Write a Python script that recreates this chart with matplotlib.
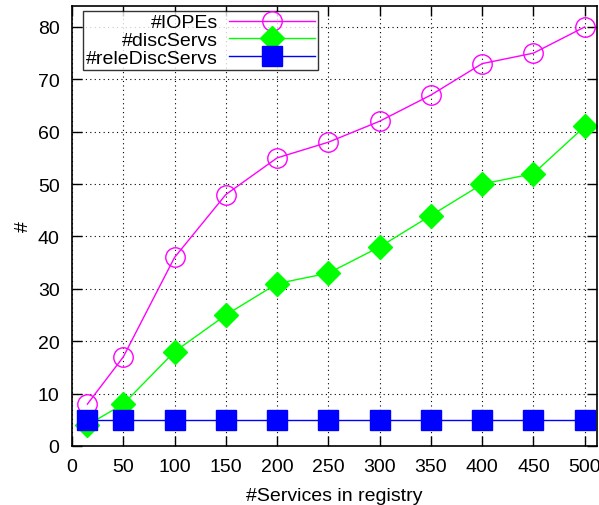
import matplotlib
matplotlib.use("Agg")
import matplotlib.pyplot as plt

plt.rcParams['font.family'] = ['Liberation Sans', 'DejaVu Sans']

# services in registry
services = [15, 50, 100, 150, 200, 250, 300, 350, 400, 450, 500]
iopes = [8, 17, 36, 48, 55, 58, 62, 67, 73, 75, 80]
disc_servs = [4, 8, 18, 25, 31, 33, 38, 44, 50, 52, 61]
rele_disc_servs = [5, 5, 5, 5, 5, 5, 5, 5, 5, 5, 5]

xticks = [0, 50, 100, 150, 200, 250, 300, 350, 400, 450, 500]
yticks = [0, 10, 20, 30, 40, 50, 60, 70, 80]

fig = plt.figure(figsize=(5.99, 5.06), dpi=100)
ax = fig.add_axes([72/599, 1 - 447/506, 525/599, 440/506])

ax.plot(services, iopes, color="#ff00ff", lw=1, marker="o", ms=14,
        mfc="none", mec="#ff00ff", mew=1, label="#IOPEs")
ax.plot(services, disc_servs, color="#00ff00", lw=1, marker="D", ms=12,
        mfc="#00ff00", mec="#00ff00", label="#discServs")
ax.plot(services, rele_disc_servs, color="#0000ff", lw=1, marker="s", ms=14,
        mfc="#0000ff", mec="#0000ff", label="#releDiscServs")

ax.set_xlim(0, 512)
ax.set_ylim(0, 84)
ax.set_xticks(xticks)
ax.set_yticks(yticks)
ax.tick_params(direction="in", top=True, right=True, length=7, width=1, labelsize=14, pad=9)
ax.grid(True, color="black", linestyle=(0, (1, 3)), linewidth=0.8)
for s in ax.spines.values():
    s.set_linewidth(1.2)

ax.set_xlabel("#Services in registry", fontsize=14, labelpad=8)
ax.set_ylabel("#", fontsize=14, labelpad=4)

leg = ax.legend(loc="upper left", bbox_to_anchor=(0.021, 0.989), markerfirst=False,
                fontsize=14, frameon=True, fancybox=False, edgecolor="black",
                borderpad=0.15, labelspacing=0.0, handlelength=4.4, handletextpad=0.6,
                borderaxespad=0)
leg.get_frame().set_linewidth(1)
for t in leg.get_texts():
    t.set_ha("right")
leg._legend_box.align = "right"

fig.savefig("out.png", dpi=100)
